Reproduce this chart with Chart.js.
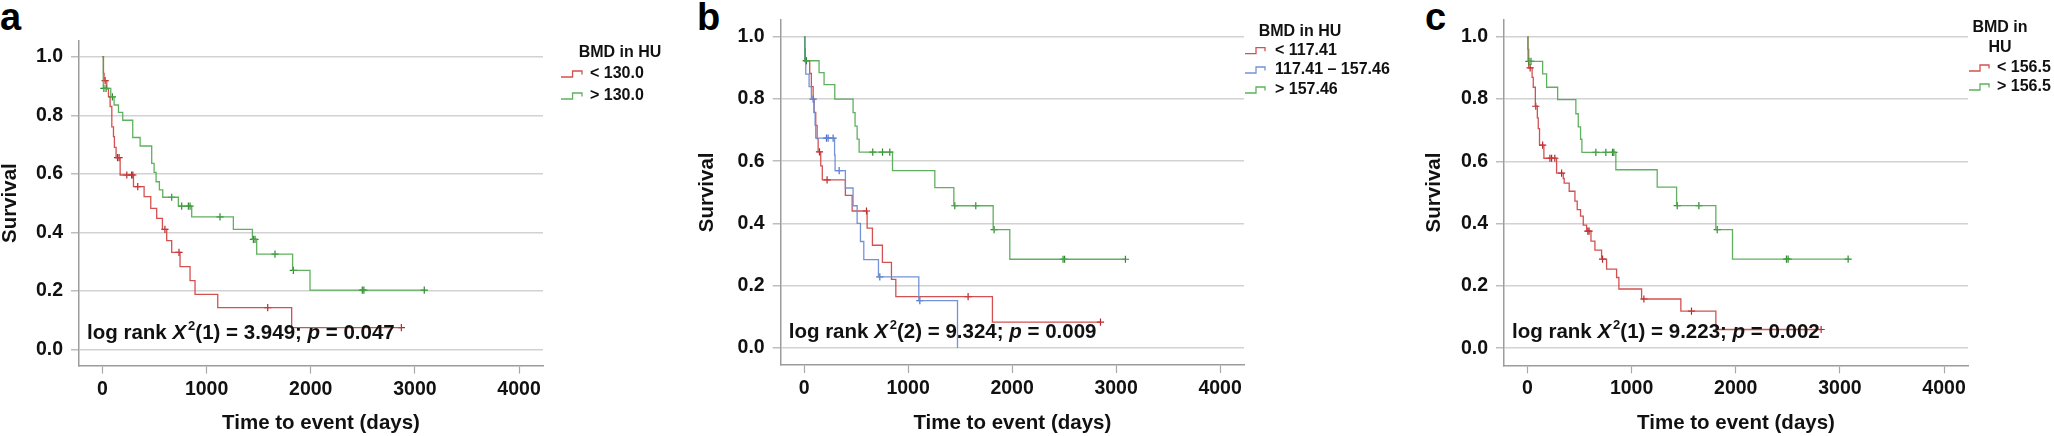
<!DOCTYPE html>
<html>
<head>
<meta charset="utf-8">
<script src="https://cdn.jsdelivr.net/npm/chart.js@4.4.1/dist/chart.umd.min.js"></script>
<style>
  html, body { margin: 0; padding: 0; background: #ffffff; }
  body { width: 2054px; height: 436px; position: relative; overflow: hidden; font-family: "Liberation Sans", Arial, sans-serif; }
  .panel { position: absolute; top: 0; height: 436px; }
  .letter { position: absolute; top: -2px; font: bold 38px/38px "Liberation Sans", Arial, sans-serif; color: #000; }
</style>
</head>
<body>
<div class="letter" style="left:0px">a</div>
<div class="letter" style="left:697px">b</div>
<div class="letter" style="left:1425px">c</div>
<div class="panel" style="left:0px;width:697px"><canvas id="ca" width="697" height="436"></canvas></div>
<div class="panel" style="left:697px;width:727px"><canvas id="cb" width="727" height="436"></canvas></div>
<div class="panel" style="left:1424px;width:630px"><canvas id="cc" width="630" height="436"></canvas></div>
<script>
// ---------- axis ticks ----------
const X_TICKS = [0, 1000, 2000, 3000, 4000];
const X_TICK_LABELS = ['0', '1000', '2000', '3000', '4000'];
const Y_TICKS = [0, 0.2, 0.4, 0.6, 0.8, 1.0];
const Y_TICK_LABELS = ['0.0', '0.2', '0.4', '0.6', '0.8', '1.0'];
const X_TITLE = 'Time to event (days)';
const Y_TITLE = 'Survival';

// ---------- panel a ----------
const A_LEGEND_TITLE = ['BMD in HU'];
const A_LABELS = ['< 130.0', '> 130.0'];
const A_LOW_T = [0, 10, 16, 42, 58, 74, 90, 106, 115, 131, 170, 298, 400, 464, 521, 576, 617, 665, 745, 841, 889, 1107, 1817];
const A_LOW_S = [1.0, 0.943, 0.918, 0.89, 0.863, 0.83, 0.76, 0.727, 0.69, 0.655, 0.596, 0.556, 0.522, 0.482, 0.448, 0.41, 0.372, 0.332, 0.283, 0.235, 0.188, 0.143, 0.075];
const A_LOW_C = [26, 145, 160, 234, 280, 292, 339, 600, 735, 1587, 2870];
const A_HIGH_T = [0, 8, 80, 112, 154, 195, 291, 362, 473, 496, 515, 547, 579, 729, 857, 1257, 1440, 1481, 1826, 1993];
const A_HIGH_S = [1.0, 0.892, 0.863, 0.835, 0.81, 0.783, 0.724, 0.695, 0.636, 0.605, 0.573, 0.545, 0.52, 0.49, 0.453, 0.41, 0.376, 0.326, 0.27, 0.203];
const A_HIGH_C = [14, 35, 96, 665, 761, 825, 841, 1129, 1449, 1465, 1657, 1833, 2495, 2510, 3090];

// ---------- panel b ----------
const B_LEGEND_TITLE = ['BMD in HU'];
const B_LABELS = ['< 117.41', '117.41 \u2013 157.46', '> 157.46'];
const B_LOW_T = [0, 5, 12, 54, 70, 87, 96, 112, 125, 135, 160, 175, 397, 462, 606, 657, 753, 840, 882, 1811];
const B_LOW_S = [1.0, 0.962, 0.923, 0.882, 0.84, 0.80, 0.757, 0.715, 0.673, 0.63, 0.585, 0.54, 0.49, 0.44, 0.385, 0.33, 0.275, 0.22, 0.165, 0.083];
const B_LOW_C = [22, 148, 221, 600, 1577, 2850];
const B_MID_T = [0, 6, 16, 48, 70, 96, 106, 112, 293, 298, 397, 471, 510, 542, 574, 715, 1103, 1475];
const B_MID_S = [1.0, 0.92, 0.88, 0.84, 0.80, 0.756, 0.715, 0.674, 0.62, 0.57, 0.514, 0.457, 0.40, 0.342, 0.284, 0.228, 0.152, 0.0];
const B_MID_C = [87, 215, 231, 279, 337, 728, 1113];
const B_HIGH_T = [0, 8, 144, 192, 295, 471, 490, 510, 529, 850, 1257, 1440, 1818, 1978];
const B_HIGH_S = [1.0, 0.923, 0.885, 0.846, 0.80, 0.756, 0.713, 0.671, 0.629, 0.57, 0.515, 0.457, 0.38, 0.285];
const B_HIGH_C = [22, 660, 754, 824, 1449, 1651, 1827, 2490, 2505, 3090];

// ---------- panel c ----------
const C_LEGEND_TITLE = ['BMD in', 'HU'];
const C_LABELS = ['< 156.5', '> 156.5'];
const C_LOW_T = [0, 5, 12, 45, 56, 76, 95, 104, 116, 158, 280, 344, 353, 401, 456, 478, 510, 536, 568, 610, 648, 712, 760, 856, 878, 1096, 1473, 1809];
const C_LOW_S = [1.0, 0.96, 0.90, 0.87, 0.838, 0.777, 0.74, 0.705, 0.652, 0.61, 0.562, 0.545, 0.53, 0.504, 0.472, 0.445, 0.424, 0.395, 0.376, 0.344, 0.315, 0.286, 0.254, 0.227, 0.19, 0.158, 0.119, 0.06];
const C_LOW_C = [26, 80, 146, 216, 232, 263, 328, 580, 592, 721, 1118, 1575, 2820];
const C_HIGH_T = [0, 5, 146, 184, 290, 465, 488, 510, 523, 849, 1246, 1432, 1809, 1969];
const C_HIGH_S = [1.0, 0.921, 0.881, 0.838, 0.798, 0.753, 0.711, 0.671, 0.629, 0.573, 0.517, 0.458, 0.381, 0.286];
const C_HIGH_C = [14, 34, 657, 753, 817, 830, 1438, 1646, 1822, 2487, 2503, 3079];

// ---------- log rank statistics ----------
const LOGRANK_DF = ['1', '2', '1'];
const LOGRANK_CHI = ['3.949', '9.324', '9.223'];
const LOGRANK_P = ['0.047', '0.009', '0.002'];

// ---------- styling ----------
const FONT = '"Liberation Sans", Arial, Helvetica, sans-serif';
const COL = {
  red:   { line: 'rgba(206,62,62,0.9)',  mark: '#b3282a' },
  blue:  { line: 'rgba(108,140,214,0.95)', mark: '#4d6fc6' },
  green: { line: 'rgba(78,168,78,0.9)',  mark: '#2e8a2e' }
};

function stepValue(T, S, t) {
  let v = S[0];
  for (let i = 0; i < T.length; i++) { if (T[i] <= t) v = S[i]; }
  return v;
}
function groupDatasets(T, S, C, col) {
  const pts = T.map((t, i) => ({ x: t, y: S[i] }));
  const lastC = C.length ? Math.max(...C) : 0;
  if (lastC > T[T.length - 1]) pts.push({ x: lastC, y: S[S.length - 1] });
  return [
    { type: 'line', data: pts, stepped: true, borderColor: col.line, borderWidth: 1.3,
      pointRadius: 0, fill: false, tension: 0 },
    { type: 'line', data: C.map(t => ({ x: t, y: stepValue(T, S, t) })), showLine: false,
      pointStyle: 'cross', pointRadius: 3.6, pointBorderWidth: 1.2,
      borderColor: col.mark, backgroundColor: col.mark }
  ];
}

const kmLegend = {
  id: 'kmLegend',
  afterDraw(chart, args, o) {
    if (!o || !o.items) return;
    const ctx = chart.ctx, r = chart.chartArea.right;
    ctx.save();
    ctx.font = 'bold 16px ' + FONT;
    ctx.fillStyle = '#111';
    ctx.textBaseline = 'middle';
    ctx.textAlign = 'center';
    o.title.forEach((line, i) => ctx.fillText(line, r + o.titleDx, o.titleY[i]));
    ctx.textAlign = 'left';
    o.items.forEach((it, i) => {
      const y = o.itemY[i], x0 = r + o.iconDx, w = o.iconW;
      ctx.strokeStyle = it.color; ctx.lineWidth = 1.3;
      ctx.beginPath();
      ctx.moveTo(x0, y + 3); ctx.lineTo(x0 + w * 0.55, y + 3); ctx.lineTo(x0 + w * 0.55, y - 3);
      ctx.lineTo(x0 + w, y - 3); ctx.lineTo(x0 + w, y + 0.5);
      ctx.stroke();
      ctx.fillText(it.label, r + o.textDx, y);
    });
    ctx.restore();
  }
};
const kmNote = {
  id: 'kmNote',
  afterDraw(chart, args, o) {
    if (!o || !o.parts) return;
    const ctx = chart.ctx;
    let x = chart.chartArea.left + o.dx;
    const y = chart.chartArea.bottom - o.dy;
    ctx.save();
    ctx.fillStyle = '#111'; ctx.textBaseline = 'alphabetic'; ctx.textAlign = 'left';
    for (const p of o.parts) {
      ctx.font = p.font;
      ctx.fillText(p.text, x, y + (p.rise || 0));
      x += ctx.measureText(p.text).width + (p.after || 0);
    }
    ctx.restore();
  }
};
// shifts the x-axis title horizontally by a few pixels (panel a only)
const xTitleShift = {
  id: 'xTitleShift',
  beforeDraw(chart, args, o) {
    const s = chart.scales.x;
    if (!o || !o.dx || s._shiftWrapped) return;
    const orig = s.drawTitle;
    s.drawTitle = function () { const c = this.ctx; c.save(); c.translate(o.dx, 0); orig.call(this); c.restore(); };
    s._shiftWrapped = true;
  }
};
function noteParts(k) {
  const f = 'bold 20.5px ' + FONT, fi = 'italic bold 20.5px ' + FONT, fs = 'bold 13px ' + FONT;
  return [
    { text: 'log rank ', font: f },
    { text: 'X', font: fi, after: 2 },
    { text: '2', font: fs, rise: -9 },
    { text: '(' + LOGRANK_DF[k] + ') = ' + LOGRANK_CHI[k] + '; ', font: f },
    { text: 'p', font: fi },
    { text: ' = ' + LOGRANK_P[k], font: f }
  ];
}

function makeChart(id, cfg) {
  const datasets = [];
  cfg.groups.forEach(g => datasets.push(...groupDatasets(g.T, g.S, g.C, g.col)));
  return new Chart(document.getElementById(id), {
    type: 'line',
    data: { datasets },
    plugins: [kmLegend, kmNote, xTitleShift],
    options: {
      responsive: false,
      animation: false,
      events: [],
      layout: { padding: { left: 0, top: cfg.top, right: cfg.right, bottom: 0 } },
      plugins: {
        legend: { display: false },
        tooltip: { enabled: false },
        kmLegend: cfg.legend,
        kmNote: { dx: 8, dy: 27, parts: noteParts(cfg.k) },
        xTitleShift: { dx: cfg.titleShift || 0 }
      },
      scales: {
        x: {
          type: 'linear', min: -225, max: 4230,
          afterBuildTicks: s => { s.ticks = X_TICKS.map(v => ({ value: v })); },
          afterFit: s => { s.height = cfg.xh; },
          ticks: { callback: (v, i) => X_TICK_LABELS[i], color: '#111', padding: 4,
                   font: { family: FONT, size: 19.5, weight: 'bold' }, maxRotation: 0, autoSkip: false },
          grid: { drawOnChartArea: false, drawTicks: true, tickLength: 8, tickColor: '#a8a8a8', tickWidth: 1.2 },
          border: { display: true, color: '#9c9c9c', width: 1.5 },
          title: { display: true, text: X_TITLE, color: '#111', padding: { top: 0, bottom: 2 },
                   font: { family: FONT, size: 20.5, weight: 'bold', lineHeight: 1 } }
        },
        y: {
          type: 'linear', min: -0.055, max: 1.055,
          afterBuildTicks: s => { s.ticks = Y_TICKS.map(v => ({ value: v })); },
          afterFit: s => { s.width = cfg.yw; },
          ticks: { callback: (v, i) => Y_TICK_LABELS[i], color: '#111', padding: 8,
                   font: { family: FONT, size: 19.5, weight: 'bold' }, autoSkip: false },
          grid: { color: '#d2d2d2', lineWidth: 1.5, drawTicks: true, tickLength: 8, tickColor: '#bdbdbd' },
          border: { display: true, color: '#9c9c9c', width: 1.5 },
          title: { display: true, text: Y_TITLE, color: '#111', padding: 0,
                   font: { family: FONT, size: 20.5, weight: 'bold', lineHeight: 1 } }
        }
      }
    }
  });
}

makeChart('ca', {
  k: 0, top: 40.6, right: 154, yw: 79, xh: 70.4, titleShift: 10,
  groups: [
    { T: A_HIGH_T, S: A_HIGH_S, C: A_HIGH_C, col: COL.green },
    { T: A_LOW_T, S: A_LOW_S, C: A_LOW_C, col: COL.red }
  ],
  legend: { title: A_LEGEND_TITLE, titleDx: 77, titleY: [53],
            iconDx: 18, iconW: 21, textDx: 47, itemY: [74, 96],
            items: [{ label: A_LABELS[0], color: COL.red.line }, { label: A_LABELS[1], color: COL.green.line }] }
});
makeChart('cb', {
  k: 1, top: 16, right: 180, yw: 83.7, xh: 71,
  groups: [
    { T: B_HIGH_T, S: B_HIGH_S, C: B_HIGH_C, col: COL.green },
    { T: B_MID_T, S: B_MID_S, C: B_MID_C, col: COL.blue },
    { T: B_LOW_T, S: B_LOW_S, C: B_LOW_C, col: COL.red }
  ],
  legend: { title: B_LEGEND_TITLE, titleDx: 56, titleY: [31.7],
            iconDx: 1, iconW: 20, textDx: 31, itemY: [50.7, 70, 90],
            items: [{ label: B_LABELS[0], color: COL.red.line }, { label: B_LABELS[1], color: COL.blue.line },
                    { label: B_LABELS[2], color: COL.green.line }] }
});
makeChart('cc', {
  k: 2, top: 16.7, right: 86, yw: 80, xh: 70.7,
  groups: [
    { T: C_HIGH_T, S: C_HIGH_S, C: C_HIGH_C, col: COL.green },
    { T: C_LOW_T, S: C_LOW_S, C: C_LOW_C, col: COL.red }
  ],
  legend: { title: C_LEGEND_TITLE, titleDx: 32, titleY: [28, 48],
            iconDx: 1, iconW: 20, textDx: 29, itemY: [68, 87],
            items: [{ label: C_LABELS[0], color: COL.red.line }, { label: C_LABELS[1], color: COL.green.line }] }
});
</script>
</body>
</html>
